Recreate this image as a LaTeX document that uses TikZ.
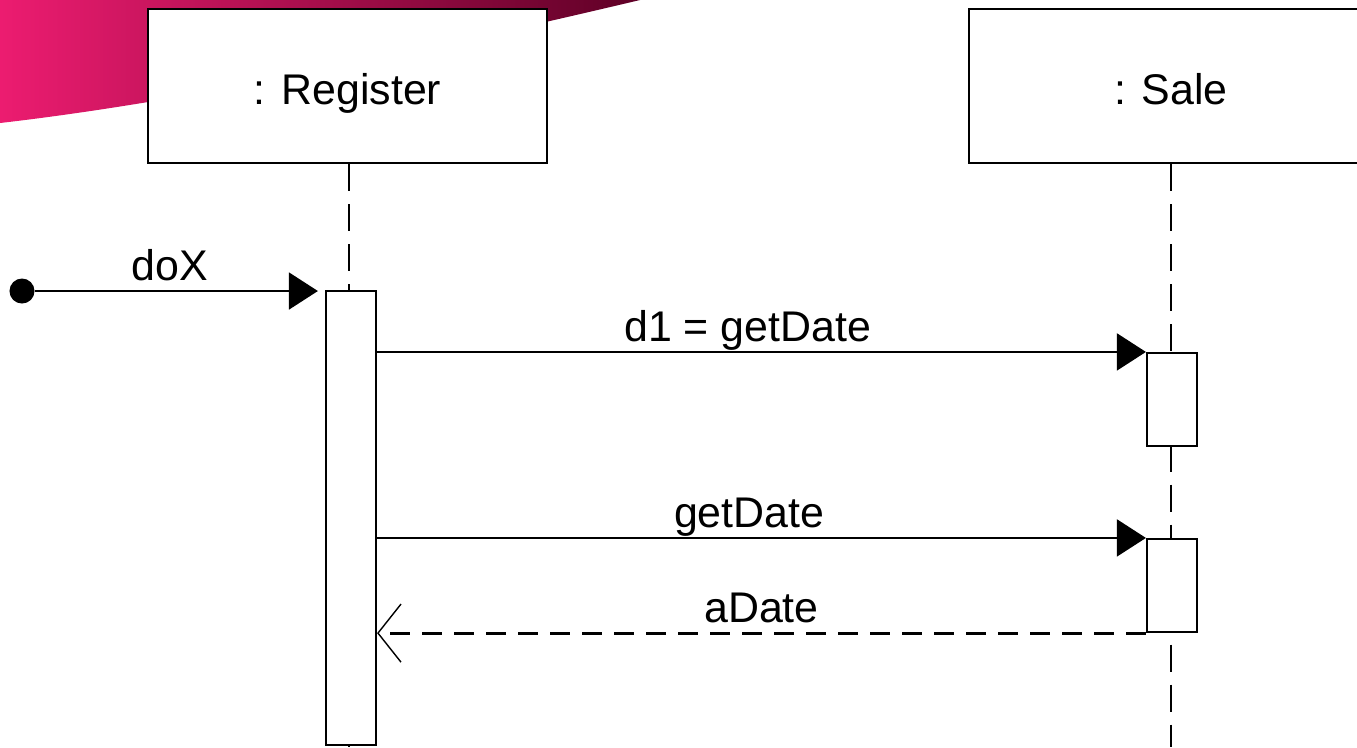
\documentclass[tikz,border=0pt]{standalone}
\usepackage{fontspec}
\setmainfont{Liberation Sans}
\usetikzlibrary{arrows.meta}

\definecolor{swooshpink}{RGB}{236,28,112}
\definecolor{swooshred}{RGB}{220,22,90}
\definecolor{swooshdark}{RGB}{95,0,38}

\begin{document}
\begin{tikzpicture}[x=0.01cm, y=-0.01cm,
    every node/.style={font=\fontsize{12.2}{14}\selectfont},
    object/.style={draw, line width=0.6pt, fill=white, minimum width=#1, minimum height=1.545cm,
        inner sep=0pt, text height=0.42cm, text depth=0.06cm},
    act/.style={draw, line width=0.6pt, fill=white, minimum width=0.5cm, minimum height=#1, inner sep=0pt},
    lifeline/.style={line width=0.7pt, dash pattern=on 0.27cm off 0.13cm},
    msg/.style={line width=0.5pt, -{Triangle[length=0.29cm, width=0.37cm]}},
    reply/.style={line width=0.8pt, dash pattern=on 0.2cm off 0.12cm, -{Straight Barb[length=0.23cm, width=0.58cm, line width=0.4pt]}},
    lbl/.style={anchor=base, yshift=3pt, inner sep=0pt}]
    \useasboundingbox (0,0) rectangle (1357,747);
    \clip (0,0) rectangle (1357,747);
    % Background swoosh
    \shade[left color=swooshpink, middle color=swooshred, right color=swooshdark]
        (0,0) -- (640,0) .. controls (450,45) and (200,100) .. (0,123) -- cycle;
    % Objects
    \node[object=3.99cm] (reg) at (347.5,86) {: Register};
    \node[object=4.04cm] (sale) at (1171,86) {: Sale};
    % Lifelines
    \coordinate (regend) at (349,747);
    \coordinate (saleend) at (1171,747);
    \draw[lifeline] (reg.south -| regend) -- (regend);
    \draw[lifeline] (sale.south) -- (saleend);
    % Activations
    \node[act=4.54cm] (regact) at (351,518) {};
    \node[act=0.93cm] (saleacta) at (1172,399.5) {};
    \node[act=0.93cm] (saleactb) at (1172,585.5) {};
    % Found message
    \node[circle, fill, minimum size=0.25cm, inner sep=0pt] (start) at (22,291) {};
    \draw[msg, shorten >=2pt] (start) -- (start -| regact.west)
        node[lbl, pos=0.465] {doX};
    % Messages
    \draw[msg] (regact.east |- saleacta.north) -- (saleacta.north west)
        node[lbl, pos=0.482] {d1 = getDate};
    \draw[msg] (regact.east |- saleactb.north) -- (saleactb.north west)
        node[lbl, pos=0.484] {getDate};
    \draw[reply] (saleactb.south west) -- (regact.east |- saleactb.south)
        node[lbl, midway] {aDate};
\end{tikzpicture}
\end{document}
